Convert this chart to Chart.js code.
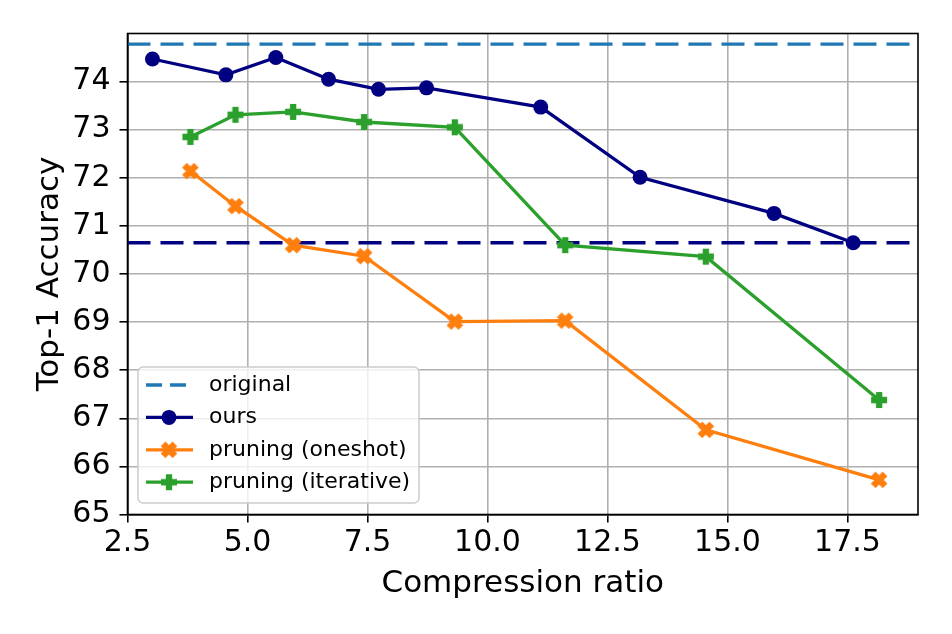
<!DOCTYPE html>
<html>
<head>
<meta charset="utf-8">
<script src="https://cdn.jsdelivr.net/npm/chart.js@4.4.1/dist/chart.umd.min.js"></script>
<style>
  html, body { margin: 0; padding: 0; background: #fff; }
  #wrap { width: 952px; height: 634px; }
</style>
</head>
<body>
<div id="wrap"><canvas id="accChart" width="952" height="634"></canvas></div>
<script>
// values
const ratioOurs = [3.02, 4.55, 5.59, 6.69, 7.73, 8.73, 11.11, 13.18, 15.97, 17.62];
const accOurs = [74.47, 74.14, 74.50, 74.05, 73.84, 73.87, 73.47, 72.01, 71.26, 70.65];
const ratioPruning = [3.81, 4.75, 5.95, 7.43, 9.32, 11.62, 14.55, 18.16];
const accOneshot = [72.14, 71.41, 70.60, 70.37, 69.01, 69.03, 66.76, 65.72];
const accIterative = [72.85, 73.31, 73.37, 73.16, 73.05, 70.60, 70.36, 67.38];
const ORIGINAL_ACC = 74.78;
const BASELINE_ACC = 70.65;
const X_MIN = 2.5, X_MAX = 18.97;
const Y_MIN = 65, Y_MAX = 75;
const legendLabels = ['original', 'ours', 'pruning (oneshot)', 'pruning (iterative)'];

const NAVY = '#000080', BLUE = '#1f77b4', ORANGE = '#ff7f0e', GREEN = '#2ca02c';
const FONT = "'DejaVu Sans', sans-serif";
const LINE_W = 3.3;

const toPoints = (xs, ys) => xs.map((x, i) => ({ x, y: ys[i] }));

// matplotlib filled 'P' and 'X' marker outlines
const PLUS_PATH = [[-1,-3],[1,-3],[1,-1],[3,-1],[3,1],[1,1],[1,3],[-1,3],[-1,1],[-3,1],[-3,-1],[-1,-1]].map(p => [p[0]/6, p[1]/6]);
const X_PATH = [[-1,-2],[0,-1],[1,-2],[2,-1],[1,0],[2,1],[1,2],[0,1],[-1,2],[-2,1],[-1,0],[-2,-1]].map(p => [p[0]/4, p[1]/4]);

function makeMarker(path, color, size) {
  const c = document.createElement('canvas');
  c.width = 20; c.height = 20;
  const g = c.getContext('2d');
  g.beginPath();
  path.forEach(([px, py], i) => {
    const x = 10 + px * size, y = 10 + py * size;
    if (i === 0) g.moveTo(x, y); else g.lineTo(x, y);
  });
  g.closePath();
  g.fillStyle = color;
  g.strokeStyle = color;
  g.lineWidth = 1.5;
  g.lineJoin = 'miter';
  g.fill();
  g.stroke();
  return c;
}

const xMarker = makeMarker(X_PATH, ORANGE, 14.5);
const plusMarker = makeMarker(PLUS_PATH, GREEN, 14.5);

const frame = {
  id: 'frame',
  afterDatasetsDraw(chart) {
    const { ctx, chartArea: a } = chart;
    ctx.save();
    ctx.strokeStyle = '#000';
    ctx.lineWidth = 1.6;
    ctx.strokeRect(a.left, a.top, a.right - a.left, a.bottom - a.top);
    ctx.restore();
  },
};

const legendBox = {
  id: 'legendBox',
  afterDraw(chart) {
    const { ctx, chartArea: a } = chart;
    const w = 281, h = 136;
    const left = a.left + 10.5, top = a.bottom - 11.5 - h;
    ctx.save();
    ctx.beginPath();
    ctx.roundRect(left, top, w, h, 5);
    ctx.fillStyle = 'rgba(255,255,255,0.8)';
    ctx.fill();
    ctx.strokeStyle = '#cccccc';
    ctx.lineWidth = 1.5;
    ctx.stroke();

    const styles = [
      { color: BLUE, dash: [16, 8], marker: null },
      { color: NAVY, dash: [], marker: 'circle' },
      { color: ORANGE, dash: [], marker: xMarker },
      { color: GREEN, dash: [], marker: plusMarker },
    ];
    legendLabels.forEach((label, i) => {
      const y = top + 18 + i * 32.4;
      const s = styles[i];
      ctx.beginPath();
      ctx.setLineDash(s.dash);
      ctx.strokeStyle = s.color;
      ctx.lineWidth = LINE_W;
      ctx.moveTo(left + 8, y);
      ctx.lineTo(left + 55, y);
      ctx.stroke();
      ctx.setLineDash([]);
      if (s.marker === 'circle') {
        ctx.beginPath();
        ctx.arc(left + 31, y, 7.5, 0, Math.PI * 2);
        ctx.fillStyle = s.color;
        ctx.fill();
      } else if (s.marker) {
        ctx.drawImage(s.marker, left + 31 - 10, y - 10);
      }
      ctx.fillStyle = '#000';
      ctx.font = `22px ${FONT}`;
      ctx.textBaseline = 'middle';
      ctx.textAlign = 'left';
      ctx.fillText(label, left + 71, y);
    });
    ctx.restore();
  },
};

new Chart(document.getElementById('accChart'), {
  type: 'line',
  data: {
    datasets: [
      {
        label: 'original',
        data: toPoints([X_MIN, X_MAX], [ORIGINAL_ACC, ORIGINAL_ACC]),
        borderColor: BLUE, borderWidth: LINE_W, borderDash: [23, 10],
        pointRadius: 0, order: 5,
      },
      {
        label: 'baseline',
        data: toPoints([X_MIN, X_MAX], [BASELINE_ACC, BASELINE_ACC]),
        borderColor: NAVY, borderWidth: LINE_W, borderDash: [23, 10],
        pointRadius: 0, order: 4,
      },
      {
        label: 'ours',
        data: toPoints(ratioOurs, accOurs),
        borderColor: NAVY, backgroundColor: NAVY, borderWidth: LINE_W,
        pointStyle: 'circle', pointRadius: 7.5, pointBorderWidth: 0,
        pointBackgroundColor: NAVY, order: 3,
      },
      {
        label: 'pruning (oneshot)',
        data: toPoints(ratioPruning, accOneshot),
        borderColor: ORANGE, borderWidth: LINE_W,
        pointStyle: xMarker, pointRadius: 7, order: 2,
      },
      {
        label: 'pruning (iterative)',
        data: toPoints(ratioPruning, accIterative),
        borderColor: GREEN, borderWidth: LINE_W,
        pointStyle: plusMarker, pointRadius: 7, order: 1,
      },
    ],
  },
  options: {
    responsive: false,
    animation: false,
    events: [],
    layout: { padding: { left: 0, right: 34, top: 33.5, bottom: 0 } },
    plugins: { legend: { display: false }, tooltip: { enabled: false } },
    scales: {
      x: {
        type: 'linear',
        min: X_MIN,
        max: X_MAX,
        afterFit(scale) { scale.height = 119.5; },
        ticks: {
          stepSize: 2.5, includeBounds: false, padding: 3,
          color: '#000', font: { family: FONT, size: 30 },
          callback: (v) => v.toFixed(1),
        },
        grid: { color: '#b0b0b0', lineWidth: 1.6, tickColor: '#000', tickLength: 8, tickWidth: 1.6 },
        border: { display: true, color: '#000', width: 1.6 },
        title: {
          display: true, text: 'Compression ratio', color: '#000',
          font: { family: FONT, size: 31, lineHeight: 1.2 },
          padding: { top: 0, bottom: 31 },
        },
      },
      y: {
        type: 'linear',
        min: Y_MIN,
        max: Y_MAX,
        afterFit(scale) { scale.width = 127.5; },
        afterBuildTicks(scale) { scale.ticks = scale.ticks.filter(t => t.value < Y_MAX); },
        ticks: {
          stepSize: 1, includeBounds: false, padding: 9,
          color: '#000', font: { family: FONT, size: 30 },
        },
        grid: { color: '#b0b0b0', lineWidth: 1.6, tickColor: '#000', tickLength: 8, tickWidth: 1.6 },
        border: { display: true, color: '#000', width: 1.6 },
        title: {
          display: true, text: 'Top-1 Accuracy', color: '#000',
          font: { family: FONT, size: 31, lineHeight: 1.2 },
          padding: { top: 31, bottom: 0 },
        },
      },
    },
  },
  plugins: [frame, legendBox],
});
</script>
</body>
</html>
